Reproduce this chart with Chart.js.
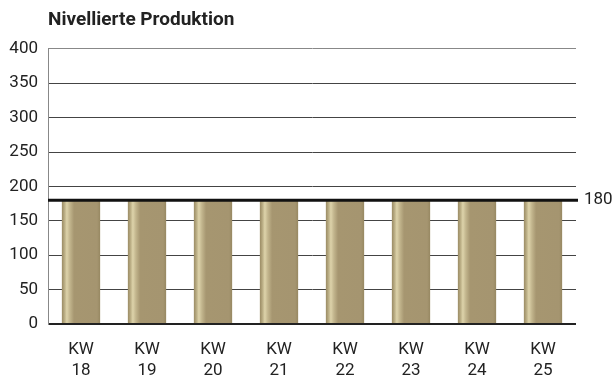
<!DOCTYPE html>
<html>
<head>
<meta charset="utf-8">
<script src="https://cdn.jsdelivr.net/npm/chart.js@4"></script>
<style>
  html, body { margin: 0; padding: 0; background: #fff; overflow: hidden; }
  #wrap { width: 616px; height: 376px; }
</style>
</head>
<body>
<div id="wrap"><canvas id="prod"></canvas></div>
<script>
const weeks = [['KW', '18'], ['KW', '19'], ['KW', '20'], ['KW', '21'], ['KW', '22'], ['KW', '23'], ['KW', '24'], ['KW', '25']];
const production = [180, 180, 180, 180, 180, 180, 180, 180];
const targetLevel = 180;
const yMax = 400;
const yStep = 50;

const barPct = 0.58;

// gradient per bar, built from the x scale so it follows each column
function barFill(c) {
  const chart = c.chart;
  const xs = chart.scales.x;
  if (!xs || c.dataIndex === undefined || !xs.width) return '#a69670';
  const cx = xs.getPixelForValue(c.dataIndex);
  const w = xs.width / weeks.length * barPct;
  const g = chart.ctx.createLinearGradient(cx - w / 2, 0, cx + w / 2, 0);
  g.addColorStop(0, '#9a8b64');
  g.addColorStop(0.06, '#b5a87f');
  g.addColorStop(0.13, '#ddd3aa');
  g.addColorStop(0.21, '#c2b58d');
  g.addColorStop(0.32, '#a69670');
  g.addColorStop(0.92, '#a59570');
  g.addColorStop(1, '#978862');
  return g;
}

const targetLine = {
  id: 'targetLine',
  afterDatasetsDraw(chart) {
    const { ctx, chartArea, scales } = chart;
    const y = scales.y.getPixelForValue(targetLevel);
    ctx.save();
    ctx.strokeStyle = '#111';
    ctx.lineWidth = 3;
    ctx.beginPath();
    ctx.moveTo(chartArea.left, y);
    ctx.lineTo(chartArea.right + 2, y);
    ctx.stroke();
    ctx.restore();
  }
};

Chart.defaults.font.family = 'Roboto, "Noto Sans", sans-serif';
Chart.defaults.color = '#222';

new Chart(document.getElementById('prod'), {
  type: 'bar',
  data: {
    labels: weeks,
    datasets: [{
      label: 'Produktion',
      data: production,
      backgroundColor: barFill,
      borderWidth: 0,
      barPercentage: barPct,
      categoryPercentage: 1
    }]
  },
  options: {
    responsive: true,
    maintainAspectRatio: false,
    animation: false,
    layout: { padding: 0 },
    plugins: {
      legend: { display: false },
      tooltip: { enabled: false },
      title: {
        display: true,
        text: 'Nivellierte Produktion',
        align: 'start',
        fullSize: false,
        color: '#222',
        font: { size: 19, weight: 'bold' },
        padding: { top: 9, bottom: 17 }
      }
    },
    scales: {
      x: {
        grid: { display: false },
        border: { display: false },
        afterFit: axis => { axis.height = 52; },
        ticks: {
          font: { size: 17, lineHeight: 1.23 },
          color: '#222',
          padding: 7,
          maxRotation: 0
        }
      },
      y: {
        min: 0,
        max: yMax,
        afterFit: axis => { axis.width = 48; },
        ticks: { stepSize: yStep, font: { size: 17 }, color: '#222', padding: 10 },
        grid: {
          drawTicks: false,
          color: c => c.tick.value === 0 ? '#222' : (c.tick.value === yMax ? '#888' : '#444'),
          lineWidth: c => c.tick.value === 0 ? 2 : 1
        },
        border: { display: true, color: '#888', width: 1 }
      },
      y2: {
        position: 'right',
        min: 0,
        max: yMax,
        grid: { display: false },
        border: { display: false },
        afterBuildTicks: axis => { axis.ticks = [{ value: targetLevel }]; },
        afterFit: axis => { axis.width = 40; },
        ticks: { font: { size: 17 }, color: '#222', padding: 0 }
      }
    }
  },
  plugins: [targetLine]
});
</script>
</body>
</html>
